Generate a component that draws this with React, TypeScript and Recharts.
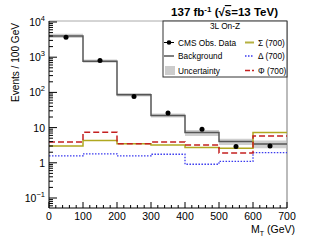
import React from 'react';
import { ComposedChart, Line, Area, XAxis, YAxis, ReferenceLine } from 'recharts';

// bin edges (GeV) and per-bin contents
const binEdges = [0, 100, 200, 300, 400, 500, 600, 700];
const observed = [3700, 800, 76, 26, 9, 2.9, 3.0];
const background = [4000, 770, 86, 22, 7.2, 4.0, 3.4];
const uncLow = [3500, 690, 77, 19.5, 5.8, 3.2, 2.6];
const uncHigh = [4600, 860, 96, 25, 8.6, 4.8, 4.3];
const sigma700 = [3.0, 4.3, 3.5, 3.2, 2.7, 2.6, 7.2];
const delta700 = [1.58, 1.8, 1.58, 1.75, 0.91, 1.1, 1.95];
const phi700 = [3.9, 7.4, 3.5, 3.9, 3.2, 1.9, 5.8];

const xMajor = [0, 100, 200, 300, 400, 500, 600, 700];
const yMajor = [0.1, 1, 10, 100, 1000, 10000];
const yLabels: Record<string, [string, string]> = {
  '0.1': ['10', '−1'],
  '1': ['1', ''],
  '10': ['10', ''],
  '100': ['10', '2'],
  '1000': ['10', '3'],
  '10000': ['10', '4'],
};

const xTicks: number[] = [];
for (let v = 0; v <= 700; v += 20) xTicks.push(v);
const yTicks: number[] = [];
for (let e = -2; e <= 4; e++) {
  for (let m = 1; m <= 9; m++) {
    const v = m * Math.pow(10, e);
    if (v >= 0.055 && v <= 10500) yTicks.push(Number(v.toPrecision(3)));
  }
}

// step rows at edges + bin centres (for the data markers)
const rows: any[] = [];
for (let i = 0; i < binEdges.length; i++) {
  const b = Math.min(i, observed.length - 1);
  rows.push({
    x: binEdges[i],
    bkg: background[b],
    band: [uncLow[b], uncHigh[b]],
    sig: sigma700[b],
    del: delta700[b],
    phi: phi700[b],
    obs: null,
  });
  if (i < observed.length) {
    rows.push({
      x: (binEdges[i] + binEdges[i + 1]) / 2,
      bkg: background[i],
      band: [uncLow[i], uncHigh[i]],
      sig: sigma700[i],
      del: delta700[i],
      phi: phi700[i],
      obs: observed[i],
    });
  }
}

const FONT = '"Liberation Sans", Arial, sans-serif';
const TICK_MARGIN = 3;

const XTick = (props: any) => {
  const { x, y, payload } = props;
  const axisY = y - TICK_MARGIN;
  const major = xMajor.includes(payload.value);
  return (
    <g>
      <line x1={x} x2={x} y1={axisY} y2={axisY - (major ? 6 : 3)} stroke="#000" strokeWidth={1} />
      {major && (
        <text x={x} y={axisY + 12} textAnchor="middle" fontSize={10.5} fontFamily={FONT} fill="#000">
          {payload.value}
        </text>
      )}
    </g>
  );
};

const YTick = (props: any) => {
  const { x, y, payload } = props;
  const axisX = x + TICK_MARGIN;
  const major = yMajor.some((m) => Math.abs(m - payload.value) < 1e-9 * m);
  const lbl = major ? yLabels[String(payload.value)] : null;
  return (
    <g>
      <line x1={axisX} x2={axisX + (major ? 8 : 4)} y1={y} y2={y} stroke="#000" strokeWidth={1} />
      {lbl && (
        <text x={x - 1} y={y + 4} textAnchor="end" fontSize={10.5} fontFamily={FONT} fill="#000">
          {lbl[0]}
          {lbl[1] && (
            <tspan fontSize={7.5} dy={-5}>
              {lbl[1]}
            </tspan>
          )}
        </text>
      )}
    </g>
  );
};

const Overlay = () => (
  <svg
    width={311}
    height={248}
    style={{ position: 'absolute', left: 0, top: 0, pointerEvents: 'none' }}
    fontFamily={FONT}
  >
    <text x={278} y={16} textAnchor="end" fontSize={11.5} fontWeight="bold" fill="#000">
      137 fb
      <tspan fontSize={8} dy={-4}>-1</tspan>
      <tspan dy={4}> (√</tspan>
      <tspan textDecoration="overline">s</tspan>
      =13 TeV)
    </text>

    <text
      transform="translate(18.5,23) rotate(-90)"
      textAnchor="end"
      fontSize={10}
      textLength={79}
      lengthAdjust="spacingAndGlyphs"
      fill="#000"
    >
      Events / 100 GeV
    </text>

    <text x={295} y={233} textAnchor="end" fontSize={10.5} fill="#000">
      M<tspan fontSize={7} dy={2.5}>T</tspan>
      <tspan dy={-2.5}> (GeV)</tspan>
    </text>

    <g>
      <rect x={163} y={21} width={124} height={56} fill="#fff" stroke="#333" strokeWidth={1} />
      <text x={225} y={29} textAnchor="middle" fontSize={8.3} fill="#000">3L On-Z</text>

      <line x1={164} x2={174} y1={42.5} y2={42.5} stroke="#000" strokeWidth={1} />
      <circle cx={169} cy={42.5} r={2.3} fill="#000" />
      <text x={178} y={45.5} fontSize={8.3} fill="#000">CMS Obs. Data</text>

      <line x1={164} x2={174} y1={56} y2={56} stroke="#555" strokeWidth={1.5} />
      <text x={178} y={59} fontSize={8.3} fill="#000">Background</text>

      <rect x={165} y={66} width={10} height={9} fill="#ccc" />
      <text x={178} y={73.5} fontSize={8.3} fill="#000">Uncertainty</text>

      <line x1={245} x2={254} y1={42.5} y2={42.5} stroke="#b5b040" strokeWidth={2} />
      <text x={258} y={45.5} fontSize={8.3} fill="#000">Σ (700)</text>

      <line x1={245} x2={254} y1={56} y2={56} stroke="#3a3aee" strokeWidth={1.3} strokeDasharray="1.5 1.5" />
      <text x={258} y={59} fontSize={8.3} fill="#000">Δ (700)</text>

      <line x1={245} x2={254} y1={70.5} y2={70.5} stroke="#c42020" strokeWidth={1.5} strokeDasharray="5 2" />
      <text x={258} y={73.5} fontSize={8.3} fill="#000">Φ (700)</text>
    </g>
  </svg>
);

export default function App() {
  return (
    <div style={{ position: 'absolute', left: 0, top: 0, width: 311, height: 248, background: '#fff' }}>
      <ComposedChart width={311} height={248} data={rows} margin={{ top: 21, right: 24, bottom: 10, left: 9 }}>
        <XAxis
          dataKey="x"
          type="number"
          domain={[0, 700]}
          ticks={xTicks}
          interval={0}
          tickSize={0}
          tickMargin={TICK_MARGIN}
          tickLine={false}
          tick={<XTick />}
          axisLine={{ stroke: '#000', strokeWidth: 1 }}
          height={30}
          allowDataOverflow
        />
        <YAxis
          scale="log"
          domain={[0.052, 10670]}
          ticks={yTicks}
          interval={0}
          tickSize={0}
          tickMargin={TICK_MARGIN}
          tickLine={false}
          tick={<YTick />}
          axisLine={{ stroke: '#000', strokeWidth: 1 }}
          width={40}
          allowDataOverflow
        />
        <ReferenceLine y={10670} stroke="#aaa" strokeWidth={1} />
        <ReferenceLine x={700} stroke="#bbb" strokeWidth={2} />
        <Area
          type="stepAfter"
          dataKey="band"
          fill="#cfcfcf"
          fillOpacity={1}
          stroke="none"
          isAnimationActive={false}
        />
        <Line type="stepAfter" dataKey="bkg" stroke="#555" strokeWidth={1.5} dot={false} isAnimationActive={false} />
        <Line type="stepAfter" dataKey="sig" stroke="#b0a820" strokeWidth={1.5} dot={false} isAnimationActive={false} />
        <Line
          type="stepAfter"
          dataKey="del"
          stroke="#3a3aee"
          strokeWidth={1.3}
          strokeDasharray="1.5 1.5"
          dot={false}
          isAnimationActive={false}
        />
        <Line
          type="stepAfter"
          dataKey="phi"
          stroke="#c42020"
          strokeWidth={1.5}
          strokeDasharray="6 3"
          dot={false}
          isAnimationActive={false}
        />
        <Line
          dataKey="obs"
          stroke="none"
          dot={{ r: 2.5, fill: '#000', stroke: 'none' }}
          isAnimationActive={false}
        />
      </ComposedChart>
      <Overlay />
    </div>
  );
}
